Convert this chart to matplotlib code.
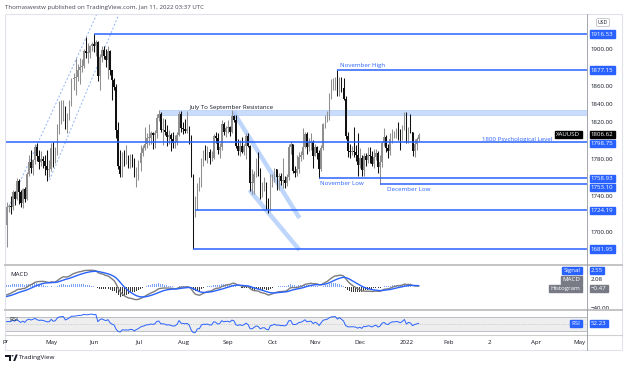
import numpy as np
import matplotlib
matplotlib.use('Agg')
import matplotlib.pyplot as plt
from matplotlib.lines import Line2D
from matplotlib.patches import Rectangle, Circle, Polygon

##########################################################################
###                daily XAUUSD candles, Apr 2021 - Jan 2022           ###
##########################################################################

first_open = 1708

closes = [
    # Apr
    1728, 1729, 1728, 1744, 1737, 1756, 1744, 1732, 1747, 1736, 1764, 1777, 1770, 1779, 1793, 1783, 1777, 1780, 1778, 1773, 1768, 1769,
    # May
    1792, 1779, 1784, 1815, 1831, 1836, 1837, 1815, 1826, 1843, 1867, 1869, 1870, 1877, 1881, 1882, 1898, 1896, 1896, 1903, 1906,
    # Jun
    1903, 1908, 1871, 1891, 1899, 1893, 1888, 1898, 1877, 1866, 1859, 1812, 1773, 1764, 1782, 1778, 1779, 1776, 1781, 1778, 1761, 1770,
    # Jul
    1776, 1787, 1792, 1796, 1803, 1803, 1808, 1806, 1808, 1825, 1829, 1812, 1812, 1810, 1804, 1806, 1802, 1798, 1799, 1806, 1829, 1814,
    # Aug
    1813, 1811, 1813, 1804, 1763, 1729, 1729, 1752, 1753, 1780, 1787, 1786, 1788, 1781, 1781, 1805, 1803, 1790, 1793, 1818, 1810, 1814,
    # Sep
    1815, 1810, 1827, 1823, 1794, 1789, 1794, 1788, 1794, 1805, 1794, 1754, 1754, 1764, 1774, 1768, 1743, 1750, 1751, 1734, 1726, 1757,
    # Oct
    1761, 1769, 1760, 1762, 1756, 1757, 1754, 1760, 1793, 1796, 1767, 1765, 1769, 1782, 1784, 1793, 1807, 1793, 1798, 1799, 1783,
    # Nov
    1793, 1787, 1769, 1792, 1818, 1824, 1830, 1849, 1862, 1864, 1866, 1851, 1868, 1858, 1846, 1805, 1789, 1788, 1789, 1788, 1785, 1774,
    # Dec
    1781, 1768, 1783, 1779, 1785, 1783, 1775, 1782, 1787, 1771, 1777, 1798, 1804, 1792, 1789, 1802, 1809, 1809, 1812, 1810, 1805, 1815, 1829,
    # Jan
    1801, 1814, 1810, 1789, 1797, 1802, 1806.62]

highs = [
    1733, 1731, 1740, 1746, 1745, 1759, 1758, 1746, 1749, 1750, 1766, 1784, 1790, 1780, 1797, 1798, 1790, 1789, 1783, 1784, 1790, 1779,
    1798, 1799, 1793, 1818, 1844, 1845, 1845, 1838, 1830, 1845, 1869, 1874, 1890, 1884, 1890, 1889, 1900, 1913, 1907, 1905, 1908,
    1916.5, 1910, 1909, 1895, 1903, 1903, 1900, 1903, 1899, 1877, 1869, 1862, 1820, 1790, 1788, 1790, 1795, 1785, 1786, 1786, 1781, 1771,
    1779, 1795, 1795, 1815, 1809, 1818, 1811, 1810, 1812, 1829, 1834, 1831, 1825, 1824, 1817, 1812, 1808, 1810, 1806, 1810, 1832, 1832,
    1820, 1824, 1832, 1816, 1806, 1764, 1740, 1754, 1760, 1781, 1790, 1795, 1794, 1791, 1789, 1807, 1810, 1808, 1798, 1823, 1820, 1816,
    1823, 1816, 1834, 1828, 1828, 1802, 1801, 1804, 1796, 1809, 1808, 1795, 1769, 1767, 1781, 1788, 1770, 1755, 1761, 1755, 1738, 1764,
    1764, 1770, 1769, 1765, 1765, 1781, 1762, 1764, 1796, 1800, 1796, 1772, 1785, 1788, 1789, 1814, 1810, 1810, 1803, 1809, 1801,
    1797, 1794, 1790, 1795, 1819, 1828, 1832, 1852, 1868, 1869, 1870, 1877, 1870, 1870, 1869, 1849, 1810, 1797, 1794, 1815, 1795, 1808,
    1792, 1784, 1787, 1787, 1793, 1793, 1789, 1791, 1791, 1789, 1785, 1800, 1814, 1806, 1797, 1808, 1813, 1811, 1814, 1820, 1813, 1817, 1831,
    1831, 1815, 1829, 1810, 1802, 1804, 1808]

lows = [
    1684, 1722, 1720, 1725, 1730, 1735, 1731, 1728, 1727, 1733, 1735, 1762, 1765, 1763, 1775, 1778, 1769, 1773, 1770, 1763, 1756, 1760,
    1767, 1771, 1776, 1784, 1807, 1818, 1822, 1813, 1809, 1823, 1838, 1855, 1850, 1865, 1862, 1875, 1879, 1890, 1885, 1890, 1898,
    1897, 1893, 1865, 1855, 1886, 1889, 1881, 1867, 1872, 1845, 1855, 1803, 1769, 1761, 1761, 1773, 1775, 1770, 1770, 1771, 1761, 1750,
    1757, 1767, 1783, 1790, 1792, 1795, 1796, 1791, 1792, 1803, 1822, 1810, 1795, 1806, 1794, 1796, 1789, 1792, 1792, 1795, 1805, 1810,
    1807, 1809, 1808, 1797, 1760, 1682, 1717, 1725, 1745, 1750, 1772, 1779, 1776, 1775, 1778, 1780, 1798, 1786, 1781, 1790, 1806, 1804,
    1808, 1805, 1809, 1821, 1792, 1785, 1783, 1787, 1785, 1780, 1793, 1745, 1742, 1742, 1760, 1762, 1737, 1739, 1745, 1726, 1721, 1723,
    1750, 1755, 1746, 1746, 1752, 1749, 1749, 1751, 1757, 1786, 1765, 1760, 1762, 1765, 1778, 1780, 1792, 1786, 1789, 1790, 1770,
    1783, 1780, 1759, 1767, 1790, 1814, 1820, 1823, 1846, 1855, 1856, 1849, 1849, 1853, 1845, 1802, 1782, 1781, 1784, 1782, 1778, 1762,
    1770, 1762, 1762, 1773, 1776, 1776, 1772, 1770, 1779, 1765, 1753, 1771, 1794, 1788, 1781, 1785, 1798, 1803, 1803, 1801, 1790, 1801, 1812,
    1798, 1798, 1808, 1783, 1782, 1790, 1800]

# month labels of the time scale (bar index of first session)
tick_bars = [22, 43, 65, 87, 109, 131, 152, 174, 197, 218, 238, 261, 282]
tick_labels = ['May', 'Jun', 'Jul', 'Aug', 'Sep', 'Oct', 'Nov', 'Dec', '2022', 'Feb', '2', 'Apr', 'May']

# price scale labels left visible between the level boxes
price_ticks = [1700, 1740, 1780, 1820, 1840, 1860, 1900]

# horizontal levels drawn on the chart : price, bar where the line starts
level_prices = [1916.53, 1877.15, 1798.75, 1758.93, 1753.10, 1724.19, 1681.95]
level_starts = [43, 163, -1, 154, 184, 93, 92]
level_texts = ['1916.53', '1877.15', '1798.75', '1758.93', '1753.10', '1724.19', '1681.95']

# resistance zone
res_start = 75
res_low = 1828.5
res_high = 1834.0

# dashed up-trend channel (bar, price) -> (bar, price)
up_channel = [[(1, 1727.8), (44.3, 1937.3)], [(21.2, 1757.2), (55.2, 1937.3)]]
# falling channel bands
down_channel = [[(111.8, 1831.4), (144.3, 1715.8)], [(119.7, 1746.3), (144.3, 1680.9)]]

# indicator states before the first bar
ema_fast_start = 1722.0
ema_slow_start = 1739.0
signal_start = -19.0
rsi_gain_start = 7.0
rsi_loss_start = 6.5

BLUE = '#2962ff'
TXT = '#131722'
GREY = '#787b86'
FS = 4.4

plt.rcParams['font.family'] = ['Open Sans', 'DejaVu Sans']


def fx(px):
    return px / 624.0


def fy(py):
    return 1 - py / 369.0


def ema(values, n, start):
    k = 2.0 / (n + 1)
    out = []
    e = start
    for v in values:
        e = k * v + (1 - k) * e
        out.append(e)
    return np.array(out)


def axis_box(axis, y, txt, fc, tc='white', side='axis', ycoord='data', dy=0):
    if side == 'axis':
        off, ha = 2.7, 'left'
    else:
        off, ha = -4.8, 'right'
    box = None if fc is None else dict(boxstyle='square,pad=0.2', fc=fc, ec=fc)
    axis.annotate(txt, xy=(1, y), xycoords=('axes fraction', ycoord), xytext=(off, dy),
                  textcoords='offset points', ha=ha, va='center', fontsize=FS, color=tc,
                  bbox=box, annotation_clip=False, zorder=10)


def main():
    c = np.array(closes, dtype=float)
    h = np.array(highs, dtype=float)
    l = np.array(lows, dtype=float)
    o = np.concatenate([[first_open], c[:-1]])
    h = np.maximum(h, np.maximum(o, c))
    l = np.minimum(l, np.minimum(o, c))
    bars = np.arange(len(c))
    xmax = 285.95

    fig = plt.figure(figsize=(6.24, 3.69), dpi=100)
    ax = fig.add_axes([fx(5), fy(265), fx(582), 250 / 369.0])
    axm = fig.add_axes([fx(5), fy(310), fx(582), 45 / 369.0], sharex=ax)
    axr = fig.add_axes([fx(5), fy(335), fx(582), 25 / 369.0], sharex=ax)

    ### prix ###
    up = c >= o
    col = np.where(up, '#8f8f8f', '#111111')
    ax.vlines(bars, l, h, colors=col, lw=0.75, zorder=3)
    ax.bar(bars, np.maximum(np.abs(c - o), 0.8), bottom=np.minimum(o, c), width=0.7,
           color=col, lw=0, zorder=3)

    ax.add_patch(Rectangle((res_start, res_low), xmax - res_start, res_high - res_low,
                           fc='#c9dcfc', ec='#b3cdfb', lw=0.5, zorder=1))
    for p, s in zip(level_prices, level_starts):
        ax.hlines(p, s, xmax, color=BLUE, lw=1.1, zorder=4)
    for (p1, p2) in up_channel:
        ax.plot([p1[0], p2[0]], [p1[1], p2[1]], color='#8fb3f7', lw=0.7, ls=(0, (2, 2)), zorder=2)
    for (p1, p2) in down_channel:
        ax.plot([p1[0], p2[0]], [p1[1], p2[1]], color='#a8c8fb', lw=3.2, alpha=0.75,
                solid_capstyle='butt', zorder=2)

    ax.text(111, 1836.3, 'July To September Resistance', ha='center', va='center', fontsize=FS, color=TXT)
    ax.text(164.3, 1882.7, 'November High', ha='left', va='center', fontsize=FS, color=BLUE)
    ax.text(268.7, 1801.8, '1800 Psychological Level', ha='right', va='center', fontsize=FS, color=BLUE)
    ax.text(154.4, 1753.4, 'November Low', ha='left', va='center', fontsize=FS, color=BLUE)
    ax.text(187.4, 1746.9, 'December Low', ha='left', va='center', fontsize=FS, color=BLUE)

    ax.set_xlim(-0.75, xmax)
    ax.set_ylim(1664.5, 1937.3)
    ax.yaxis.tick_right()
    ax.set_yticks(price_ticks)
    ax.set_yticklabels(['%.2f' % t for t in price_ticks])
    ax.tick_params(axis='y', length=0, pad=2.7, labelsize=FS, labelcolor=TXT)
    ax.tick_params(axis='x', length=0, labelbottom=False)

    # boxes that sit too close are pushed apart a little, as on the price scale
    nudge = {'1798.75': -1.3, '1753.10': -2.6}
    for p, t in zip(level_prices, level_texts):
        axis_box(ax, p, t, BLUE, dy=nudge.get(t, 0))
    axis_box(ax, c[-1], '%.2f' % c[-1], '#000000')
    axis_box(ax, c[-1], 'XAUUSD', '#000000', side='in')

    ### MACD ###
    macd = ema(c, 12, ema_fast_start) - ema(c, 26, ema_slow_start)
    signal = ema(macd, 9, signal_start)
    hist = macd - signal
    axm.bar(bars, hist, width=0.5, color=np.where(hist >= 0, '#7aa3f9', '#3a3a3a'), lw=0)
    axm.plot(bars, macd, color='#7d7d7d', lw=1.0)
    axm.plot(bars, signal, color=BLUE, lw=1.0)
    axm.set_ylim(-44.2, 42.3)
    axm.yaxis.tick_right()
    axm.set_yticks([-40])
    axm.set_yticklabels(['\u221240.00'])
    axm.tick_params(axis='y', length=0, pad=2.7, labelsize=FS, labelcolor=TXT)
    axm.tick_params(axis='x', length=0, labelbottom=False)
    axm.text(0.0086, 0.784, 'MACD', transform=axm.transAxes, fontsize=FS, color=TXT, va='center')
    axis_box(axm, 0.873, 'Signal', BLUE, side='in', ycoord='axes fraction')
    axis_box(axm, 0.873, '2.55', BLUE, ycoord='axes fraction')
    axis_box(axm, 0.667, 'MACD', GREY, side='in', ycoord='axes fraction')
    axis_box(axm, 0.667, '2.08', None, tc=TXT, ycoord='axes fraction')
    axis_box(axm, 0.473, 'Histogram', GREY, side='in', ycoord='axes fraction')
    axis_box(axm, 0.473, '\u22120.47', GREY, ycoord='axes fraction')

    ### RSI ###
    ag, al = rsi_gain_start, rsi_loss_start
    prev = first_open
    rsi = []
    for v in c:
        d = v - prev
        ag = (ag * 13 + max(d, 0)) / 14.0
        al = (al * 13 + max(-d, 0)) / 14.0
        rsi.append(100 - 100 / (1 + ag / al))
        prev = v
    axr.axhspan(30, 70, color='#eeeeee', lw=0, zorder=0)
    axr.axhline(70, color='#b2b5be', lw=0.6)
    axr.axhline(30, color='#b2b5be', lw=0.6)
    axr.axhline(50, color='#b2b5be', lw=0.5, ls=(0, (1, 1.5)))
    axr.plot(bars, rsi, color=BLUE, lw=0.7)
    axr.set_ylim(18.6, 90)
    axr.set_yticks([])
    axr.text(0.007, 0.628, 'RSI', transform=axr.transAxes, fontsize=FS, color=TXT, va='center')
    axis_box(axr, 52.23, 'RSI', BLUE, side='in')
    axis_box(axr, 52.23, '52.23', BLUE)

    axr.set_xticks(tick_bars)
    axr.set_xticklabels(tick_labels)
    axr.tick_params(axis='x', length=0, pad=3.3, labelsize=FS, labelcolor=TXT)
    # first month label is clipped by the chart edge, only its tail shows
    fig.text(fx(6), fy(342), 'pr', ha='center', va='center', fontsize=FS, color=TXT)

    for a in (ax, axm, axr):
        for sp in a.spines.values():
            sp.set_visible(False)

    ### cadre et separateurs ###
    fig.add_artist(Rectangle((fx(5), fy(350)), fx(617), 336 / 369.0, transform=fig.transFigure,
                             fill=False, ec='#e0e3eb', lw=0.8))
    for yy in (265, 310):
        fig.add_artist(Line2D([fx(5), fx(622)], [fy(yy), fy(yy)], color='#c4c4c4', lw=1.4))
    fig.add_artist(Line2D([fx(5), fx(622)], [fy(335), fy(335)], color='#d0d0d0', lw=0.8))
    fig.add_artist(Line2D([fx(587), fx(587)], [fy(14), fy(350)], color='#9598a1', lw=0.6))

    fig.text(fx(5), fy(8), 'Thomaswestw published on TradingView.com, Jan 11, 2022 03:37 UTC',
             ha='left', va='center', fontsize=FS, color='#434651')
    fig.text(fx(603), fy(22.5), 'USD', ha='center', va='center', fontsize=3.6, color=TXT,
             bbox=dict(boxstyle='round,pad=0.3', fc='white', ec='#b2b5be', lw=0.5))

    ### logo ###
    fig.add_artist(Rectangle((fx(5), fy(356.5)), fx(6), 2 / 369.0, transform=fig.transFigure, color=TXT, lw=0))
    fig.add_artist(Rectangle((fx(8.5), fy(361)), fx(2), 6.5 / 369.0, transform=fig.transFigure, color=TXT, lw=0))
    fig.add_artist(Circle((fx(12.5), fy(355.8)), 1.1 / 624.0, transform=fig.transFigure, color=TXT, lw=0))
    fig.add_artist(Polygon([(fx(13.2), fy(361)), (fx(15.8), fy(354.5)), (fx(17.8), fy(354.5)), (fx(15.2), fy(361))],
                           closed=True, transform=fig.transFigure, color=TXT, lw=0))
    fig.text(fx(19), fy(358), 'TradingView', ha='left', va='center', fontsize=4.6, color=TXT)

    fig.savefig('out.png', dpi=100)


main()
